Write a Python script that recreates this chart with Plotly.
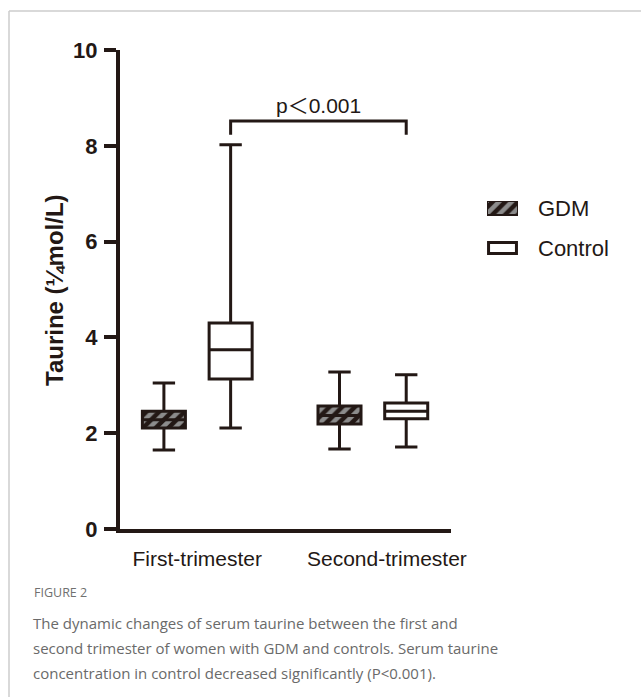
import plotly.graph_objects as go

# ---------------- data ----------------
groups = ["First-trimester", "Second-trimester"]
series = ["GDM", "Control"]

gdm_upper = [3.05, 3.28]
gdm_q3 = [2.46, 2.57]
gdm_median = [2.28, 2.37]
gdm_q1 = [2.11, 2.19]
gdm_lower = [1.65, 1.67]

ctrl_upper = [8.02, 3.22]
ctrl_q3 = [4.30, 2.63]
ctrl_median = [3.74, 2.46]
ctrl_q1 = [3.13, 2.30]
ctrl_lower = [2.11, 1.71]

y_ticks = [0, 2, 4, 6, 8, 10]
p_text = "p＜0.001"
y_title = "Taurine (¼mol/L)"
caption_head = "FIGURE 2"
caption_lines = [
    "The dynamic changes of serum taurine between the first and",
    "second trimester of women with GDM and controls. Serum taurine",
    "concentration in control decreased significantly (P<0.001).",
]

# ---------------- layout constants ----------------
W, H = 641, 697
DARK = "#231815"
GRAY = "#8c8c8c"
group_pos = [0, 1]
label_pos = [0, 1.08]
offset = 0.19
box_w = 0.245

def px_x(p):
    return p / W

def px_y(p):
    return (H - p) / H

fig = go.Figure()

gdm_x = [g - offset for g in group_pos]
ctrl_x = [g + offset for g in group_pos]

hatch = dict(shape="/", bgcolor=DARK, fgcolor=GRAY, size=9, solidity=0.5, fillmode="replace")

# hatched fill for GDM boxes
fig.add_trace(go.Bar(
    x=gdm_x,
    y=[q3 - q1 for q1, q3 in zip(gdm_q1, gdm_q3)],
    base=gdm_q1,
    width=box_w,
    marker=dict(color=DARK, line=dict(width=0), pattern=hatch),
    showlegend=False, hoverinfo="skip",
))

# GDM boxes
fig.add_trace(go.Box(
    x=gdm_x, q1=gdm_q1, median=gdm_median, q3=gdm_q3,
    lowerfence=gdm_lower, upperfence=gdm_upper,
    width=box_w, whiskerwidth=0.52, boxpoints=False,
    fillcolor="rgba(0,0,0,0)", line=dict(color=DARK, width=3),
    showlegend=False, name=series[0],
))
# Control boxes
fig.add_trace(go.Box(
    x=ctrl_x, q1=ctrl_q1, median=ctrl_median, q3=ctrl_q3,
    lowerfence=ctrl_lower, upperfence=ctrl_upper,
    width=box_w, whiskerwidth=0.52, boxpoints=False,
    fillcolor="white", line=dict(color=DARK, width=3),
    showlegend=False, name=series[1],
))

# legend swatches on a small helper axis
fig.add_trace(go.Bar(
    x=[0], y=[14], base=[40], width=1, xaxis="x2", yaxis="y2",
    marker=dict(color=DARK, line=dict(color=DARK, width=2), pattern=hatch),
    showlegend=False, hoverinfo="skip",
))
fig.add_trace(go.Bar(
    x=[0], y=[11], base=[1.5], width=0.9, xaxis="x2", yaxis="y2",
    marker=dict(color="white", line=dict(color=DARK, width=3)),
    showlegend=False, hoverinfo="skip",
))

# significance bracket between control boxes
b_top, b_leg = 8.52, 8.23
fig.add_shape(type="path", xref="x", yref="y",
              path=f"M{ctrl_x[0]},{b_leg} L{ctrl_x[0]},{b_top} L{ctrl_x[1]},{b_top} L{ctrl_x[1]},{b_leg}",
              line=dict(color=DARK, width=3))
fig.add_annotation(x=(ctrl_x[0] + ctrl_x[1]) / 2, y=8.85, xref="x", yref="y",
                   text=p_text, showarrow=False,
                   font=dict(family="Liberation Sans, Noto Sans CJK SC", size=21, color=DARK))

# legend texts
for name, py in zip(series, [208, 248]):
    fig.add_annotation(x=px_x(536), y=px_y(py), xref="paper", yref="paper",
                       text=name, showarrow=False, xanchor="left", yanchor="middle",
                       font=dict(family="Liberation Sans", size=22, color=DARK))

# y title
fig.add_annotation(x=px_x(55), y=px_y(290), xref="paper", yref="paper",
                   text=y_title, textangle=-90, showarrow=False,
                   xanchor="center", yanchor="middle",
                   font=dict(family="Liberation Sans", size=24, color=DARK, weight="bold"))

# caption
fig.add_annotation(x=px_x(32), y=px_y(592), xref="paper", yref="paper",
                   text=caption_head, showarrow=False, xanchor="left", yanchor="middle",
                   font=dict(family="Open Sans", size=12.5, color="#707070"))
for i, line in enumerate(caption_lines):
    fig.add_annotation(x=px_x(31), y=px_y(623 + 25 * i), xref="paper", yref="paper",
                       text=line, showarrow=False, xanchor="left", yanchor="middle",
                       font=dict(family="Open Sans", size=15, color="#6a6a6a"))

# frame lines
fig.add_shape(type="line", xref="paper", yref="paper",
              x0=px_x(9), x1=1, y0=px_y(11), y1=px_y(11),
              line=dict(color="#cccccc", width=1.5))
fig.add_shape(type="line", xref="paper", yref="paper",
              x0=px_x(9), x1=px_x(9), y0=0, y1=px_y(11),
              line=dict(color="#cccccc", width=1.5))

fig.update_layout(
    template="none",
    width=W, height=H,
    margin=dict(l=0, r=0, t=0, b=0, pad=0, autoexpand=False),
    paper_bgcolor="white", plot_bgcolor="white",
    barmode="overlay", showlegend=False,
    xaxis=dict(domain=[px_x(120), px_x(451)], range=[-0.44, 1.445], automargin=False,
               tickvals=label_pos, ticktext=groups, ticks="",
               showline=True, linewidth=4, linecolor=DARK,
               showgrid=False, zeroline=False, ticklabelstandoff=8,
               tickfont=dict(family="Liberation Sans", size=21, color=DARK)),
    yaxis=dict(domain=[px_y(529), px_y(50)], range=[0, 10], automargin=False,
               tickvals=y_ticks, ticks="outside", ticklen=12, tickwidth=4, tickcolor=DARK,
               showline=True, linewidth=4, linecolor=DARK,
               showgrid=False, zeroline=False, ticklabelstandoff=2,
               tickfont=dict(family="Liberation Sans", size=22, color=DARK, weight="bold")),
    xaxis2=dict(domain=[px_x(487), px_x(518)], range=[-0.5, 0.5], visible=False,
                anchor="y2", automargin=False),
    yaxis2=dict(domain=[px_y(255), px_y(201)], range=[0, 54], visible=False,
                anchor="x2", automargin=False),
)

fig.write_html("out.html", config={"displayModeBar": False},
               post_script="document.body.style.margin='0px';document.body.style.padding='0px';")
